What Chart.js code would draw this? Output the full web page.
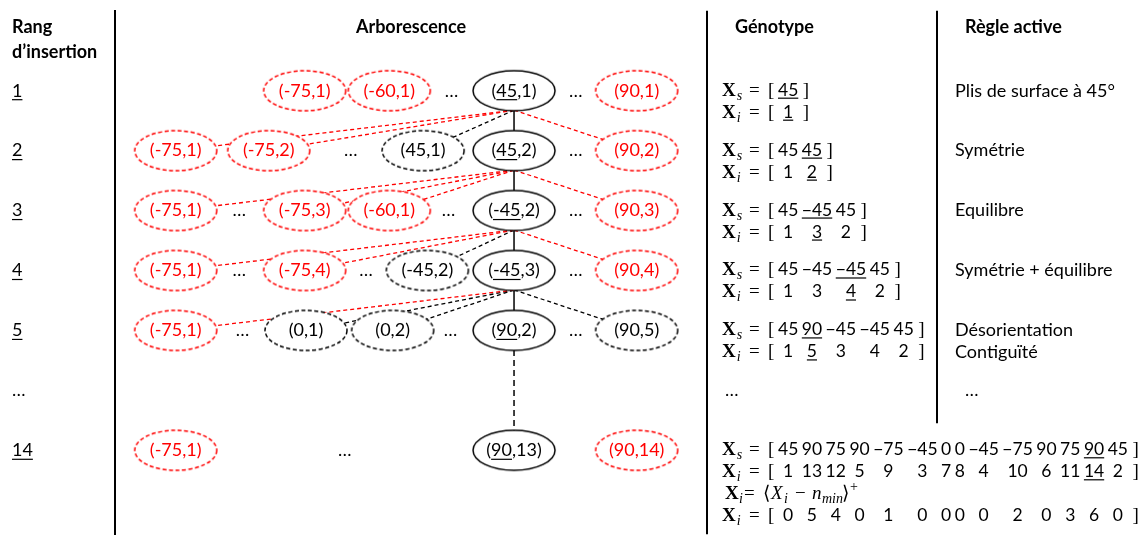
<!DOCTYPE html>
<html lang="fr">
<head>
<meta charset="utf-8">
<title>Arborescence d'insertion</title>
<script src="https://cdn.jsdelivr.net/npm/chart.js@4.4.1/dist/chart.umd.min.js"></script>
<style>
  html, body { margin: 0; padding: 0; background: #fff; }
  #wrap { width: 1142px; height: 545px; position: relative; }
</style>
</head>
<body>
<div id="wrap"><canvas id="treeChart"></canvas></div>
<script>
// rangs d'insertion (graduations de l'axe vertical)
const ranks = ['1', '2', '3', '4', '5', '…', '14'];

// noeuds de l'arborescence : étiquette, rang (1..7), emplacement horizontal, type
const nodeLabels = [
  '(-75,1)', '(-60,1)', '(45,1)', '(90,1)',
  '(-75,1)', '(-75,2)', '(45,1)', '(45,2)', '(90,2)',
  '(-75,1)', '(-75,3)', '(-60,1)', '(-45,2)', '(90,3)',
  '(-75,1)', '(-75,4)', '(-45,2)', '(-45,3)', '(90,4)',
  '(-75,1)', '(0,1)', '(0,2)', '(90,2)', '(90,5)',
  '(-75,1)', '(90,13)', '(90,14)'
];
const nodeRows = [
  1, 1, 1, 1,
  2, 2, 2, 2, 2,
  3, 3, 3, 3, 3,
  4, 4, 4, 4, 4,
  5, 5, 5, 5, 5,
  7, 7, 7
];
const nodeSlots = [
  3.05, 5.05, 8, 10.9,
  0, 2.2, 5.85, 8, 10.9,
  0, 3.05, 5.05, 8, 10.9,
  0, 3.05, 5.95, 8, 10.9,
  0, 3.08, 5.13, 8, 10.9,
  0, 8, 10.9
];
const nodeKinds = [
  'rejected', 'rejected', 'chosen', 'rejected',
  'rejected', 'rejected', 'explored', 'chosen', 'rejected',
  'rejected', 'rejected', 'rejected', 'chosen', 'rejected',
  'rejected', 'rejected', 'explored', 'chosen', 'rejected',
  'rejected', 'explored', 'explored', 'chosen', 'explored',
  'rejected', 'chosen', 'rejected'
];

// points de suspension entre les noeuds
const dotRows = [1, 1, 2, 2, 3, 3, 3, 4, 4, 4, 5, 5, 5, 7];
const dotSlots = [6.52, 9.46, 4.14, 9.46, 1.5, 6.45, 9.46, 1.5, 4.5, 9.46, 1.58, 6.5, 9.46, 4];

// génotype : séquence d'empilement Xs et ordre d'insertion Xi
const genoRows = [1, 2, 3, 4, 5, 7];
const stackSeq = [
  [45],
  [45, 45],
  [45, -45, 45],
  [45, -45, -45, 45],
  [45, 90, -45, -45, 45],
  [45, 90, 75, 90, -75, -45, 0, 0, -45, -75, 90, 75, 90, 45]
];
const insertOrder = [
  [1],
  [1, 2],
  [1, 3, 2],
  [1, 3, 4, 2],
  [1, 5, 3, 4, 2],
  [1, 13, 12, 5, 9, 3, 7, 8, 4, 10, 6, 11, 14, 2]
];
const newPlyIndex = [0, 1, 1, 2, 1, 12];
const shiftedOrder = [0, 5, 4, 0, 1, 0, 0, 0, 0, 2, 0, 3, 6, 0];

// règle active pour chaque rang
const rules = [['Plis de surface à 45°'], ['Symétrie'], ['Equilibre'], ['Symétrie + équilibre'],
  ['Désorientation', 'Contiguïté'], ['…'], []];

const SANS = 'Lato, "Open Sans", sans-serif';
const SERIF = '"Liberation Serif", "DejaVu Serif", serif';
const RED = '#ff0000';
const NODE_W = 82, NODE_H = 40;
const Y_MIN = -0.333, Y_MAX = 8.4;
const TOP = 8, BOTTOM = 545;
const halfRow = (NODE_H / 2) / ((BOTTOM - TOP) / (Y_MAX - Y_MIN));

Chart.defaults.font.family = SANS;

// ellipse dessinée une fois, utilisée comme pointStyle
function nodeImage(color, dash) {
  const c = document.createElement('canvas');
  c.width = NODE_W + 4;
  c.height = NODE_H + 4;
  const g = c.getContext('2d');
  g.beginPath();
  g.ellipse(c.width / 2, c.height / 2, NODE_W / 2, NODE_H / 2, 0, 0, Math.PI * 2);
  g.fillStyle = '#fff';
  g.fill();
  g.setLineDash(dash);
  g.lineWidth = 1.5;
  g.strokeStyle = color;
  g.stroke();
  return c;
}

const kindStyle = {
  chosen: { color: '#000', dash: [], width: 1.5 },
  explored: { color: '#000', dash: [4, 3], width: 1.3 },
  rejected: { color: RED, dash: [4, 3], width: 1.3 }
};

const nodes = nodeLabels.map((label, i) => ({ x: nodeSlots[i], y: nodeRows[i], label, kind: nodeKinds[i] }));
const chosenIn = r => nodes.find(n => n.y === r && n.kind === 'chosen');

// arêtes : le noeud retenu d'un rang est relié à tous les noeuds du rang suivant
const edges = [];
for (let r = 2; r <= 5; r++) {
  const parent = chosenIn(r - 1);
  nodes.filter(n => n.y === r).forEach(child => edges.push({ parent, child, kind: child.kind }));
}
edges.push({ parent: chosenIn(5), child: chosenIn(7), kind: 'skip' });

const edgeSets = edges.map(e => {
  const st = e.kind === 'skip' ? { color: '#000', dash: [6, 4], width: 1.5 } : kindStyle[e.kind];
  return {
    data: [{ x: e.parent.x, y: e.parent.y + halfRow }, { x: e.child.x, y: e.child.y }],
    showLine: true,
    borderColor: st.color,
    borderWidth: st.width,
    borderDash: st.dash,
    pointRadius: 0,
    order: 1
  };
});

const nodeSets = ['rejected', 'explored', 'chosen'].map(kind => ({
  nodeKind: kind,
  data: nodes.filter(n => n.kind === kind),
  pointStyle: nodeImage(kindStyle[kind].color, kind === 'chosen' ? [] : [4, 2.5]),
  pointRadius: 2,
  order: 0
}));

function fmt(v) {
  return v < 0 ? '\u2212' + (-v) : String(v);
}

function underline(ctx, x1, x2, y) {
  ctx.save();
  ctx.lineWidth = 1.2;
  ctx.strokeStyle = ctx.fillStyle;
  ctx.beginPath();
  ctx.moveTo(x1, y);
  ctx.lineTo(x2, y);
  ctx.stroke();
  ctx.restore();
}

const GX = 722;
// dessine "X_sub = [ ... ]" ; layout optionnel pour aligner sous la ligne précédente
function drawVector(ctx, y, sub, items, uIdx, layout) {
  const base = y + 6;
  ctx.fillStyle = '#000';
  ctx.textBaseline = 'alphabetic';
  ctx.textAlign = 'left';
  ctx.font = `bold 19px ${SERIF}`;
  ctx.fillText('X', GX, base);
  const wX = ctx.measureText('X').width;
  ctx.font = `italic 14px ${SERIF}`;
  ctx.fillText(sub, GX + wX + 1, base + 4);
  ctx.font = `19px ${SERIF}`;
  ctx.fillText('=', GX + 27, base);
  ctx.fillText('[', GX + 46, base);
  ctx.font = `17.5px ${SANS}`;
  let x = GX + 56;
  const centers = [];
  items.forEach((v, i) => {
    const t = fmt(v);
    const w = ctx.measureText(t).width;
    const cx = layout ? layout.centers[i] : x + w / 2;
    ctx.textAlign = 'center';
    ctx.fillText(t, cx, base);
    if (i === uIdx) underline(ctx, cx - w / 2, cx + w / 2, base + 2.5);
    centers.push(cx);
    x += w + 3.5;
  });
  const closeX = layout ? layout.closeX : x + 1;
  ctx.textAlign = 'left';
  ctx.font = `19px ${SERIF}`;
  ctx.fillText(']', closeX, base);
  return { centers, closeX };
}

// Xi = <Xi - n_min>+
function drawShiftFormula(ctx, y) {
  const base = y + 6;
  const x0 = GX + 3;
  ctx.textAlign = 'left';
  ctx.textBaseline = 'alphabetic';
  ctx.fillStyle = '#000';
  ctx.font = `bold 19px ${SERIF}`;
  ctx.fillText('X', x0, base);
  ctx.font = `italic 14px ${SERIF}`;
  ctx.fillText('i', x0 + 14, base + 4);
  ctx.font = `19px ${SERIF}`;
  ctx.fillText('=', x0 + 19, base);
  ctx.font = `19px "DejaVu Sans", ${SERIF}`;
  ctx.fillText('\u27E8', x0 + 38, base);
  ctx.font = `italic 19px ${SERIF}`;
  ctx.fillText('X', x0 + 46, base);
  ctx.font = `italic 14px ${SERIF}`;
  ctx.fillText('i', x0 + 59, base + 4);
  ctx.font = `19px ${SERIF}`;
  ctx.fillText('\u2212', x0 + 70, base);
  ctx.font = `italic 19px ${SERIF}`;
  ctx.fillText('n', x0 + 87, base);
  ctx.font = `italic 14px ${SERIF}`;
  ctx.fillText('min', x0 + 97, base + 4);
  ctx.font = `19px "DejaVu Sans", ${SERIF}`;
  ctx.fillText('\u27E9', x0 + 117, base);
  ctx.font = `14px ${SERIF}`;
  ctx.fillText('+', x0 + 125, base - 8);
}

const tablePlugin = {
  id: 'tablePlugin',
  afterDatasetsDraw(chart) {
    const { ctx, scales: { x: xs, y: ys } } = chart;
    const area = chart.chartArea;
    ctx.save();

    // séparateurs de colonnes
    ctx.strokeStyle = '#000';
    ctx.lineWidth = 2;
    ctx.beginPath();
    ctx.moveTo(707, area.top);
    ctx.lineTo(707, area.bottom);
    ctx.moveTo(937, area.top);
    ctx.lineTo(937, ys.getPixelForValue(6.55));
    ctx.stroke();

    // en-têtes
    ctx.fillStyle = '#000';
    ctx.textBaseline = 'middle';
    ctx.font = `bold 18px ${SANS}`;
    ctx.textAlign = 'left';
    ctx.fillText('Rang', 12, 27);
    ctx.fillText('d\u2019insertion', 12, 52);
    ctx.fillText('Génotype', 735, 27);
    ctx.fillText('Règle active', 965, 27);
    ctx.textAlign = 'center';
    ctx.fillText('Arborescence', 411, 27);

    // soulignement des rangs
    ctx.font = `18px ${SANS}`;
    ranks.forEach((r, i) => {
      if (r === '…') return;
      const w = ctx.measureText(r).width;
      underline(ctx, 12, 12 + w, ys.getPixelForValue(i + 1) + 9);
    });

    // étiquettes des noeuds
    chart.data.datasets.forEach((ds, di) => {
      if (!ds.nodeKind) return;
      const meta = chart.getDatasetMeta(di);
      ctx.fillStyle = ds.nodeKind === 'rejected' ? RED : '#000';
      ctx.font = `18px ${SANS}`;
      ctx.textAlign = 'center';
      ctx.textBaseline = 'middle';
      meta.data.forEach((el, j) => {
        const label = ds.data[j].label;
        ctx.fillText(label, el.x, el.y);
        if (ds.nodeKind === 'chosen') {
          const w = ctx.measureText(label).width;
          const num = label.slice(1, label.indexOf(','));
          const x1 = el.x - w / 2 + ctx.measureText('(').width;
          underline(ctx, x1, x1 + ctx.measureText(num).width, el.y + 9);
        }
      });
    });

    // points de suspension
    ctx.fillStyle = '#000';
    ctx.font = `18px ${SANS}`;
    dotRows.forEach((r, i) => {
      ctx.fillText('…', xs.getPixelForValue(dotSlots[i]), ys.getPixelForValue(r));
    });

    // génotype
    genoRows.forEach((r, i) => {
      const y = ys.getPixelForValue(r) - 1;
      const lay = drawVector(ctx, y, 's', stackSeq[i], newPlyIndex[i]);
      drawVector(ctx, y + 22, 'i', insertOrder[i], newPlyIndex[i], lay);
      if (i === genoRows.length - 1) {
        drawShiftFormula(ctx, y + 44);
        drawVector(ctx, y + 66, 'i', shiftedOrder, -1, lay);
      }
    });
    ctx.font = `18px ${SANS}`;
    ctx.textAlign = 'left';
    ctx.textBaseline = 'middle';
    ctx.fillText('…', 725, ys.getPixelForValue(6));

    // règles actives
    rules.forEach((lines, i) => {
      const y = ys.getPixelForValue(i + 1);
      lines.forEach((t, k) => {
        ctx.fillText(t, t === '…' ? 965 : 955, y + k * 22);
      });
    });
    ctx.restore();
  }
};

new Chart(document.getElementById('treeChart'), {
  type: 'scatter',
  data: { datasets: [...edgeSets, ...nodeSets] },
  options: {
    responsive: true,
    maintainAspectRatio: false,
    animation: false,
    events: [],
    layout: { padding: { left: 12, top: TOP, right: 0, bottom: 0 } },
    plugins: { legend: { display: false }, tooltip: { enabled: false } },
    scales: {
      x: { type: 'linear', display: false, min: -1.435, max: 22.73 },
      y: {
        type: 'linear',
        reverse: true,
        min: Y_MIN,
        max: Y_MAX,
        afterBuildTicks: s => { s.ticks = ranks.map((_, i) => ({ value: i + 1 })); },
        afterFit: s => { s.width = 103; },
        grid: { display: false, drawTicks: false },
        border: { display: true, color: '#000', width: 2 },
        ticks: {
          autoSkip: false,
          crossAlign: 'far',
          padding: 0,
          color: '#000',
          font: { family: SANS, size: 18 },
          callback: v => ranks[v - 1]
        }
      }
    }
  },
  plugins: [tablePlugin]
});
</script>
</body>
</html>
